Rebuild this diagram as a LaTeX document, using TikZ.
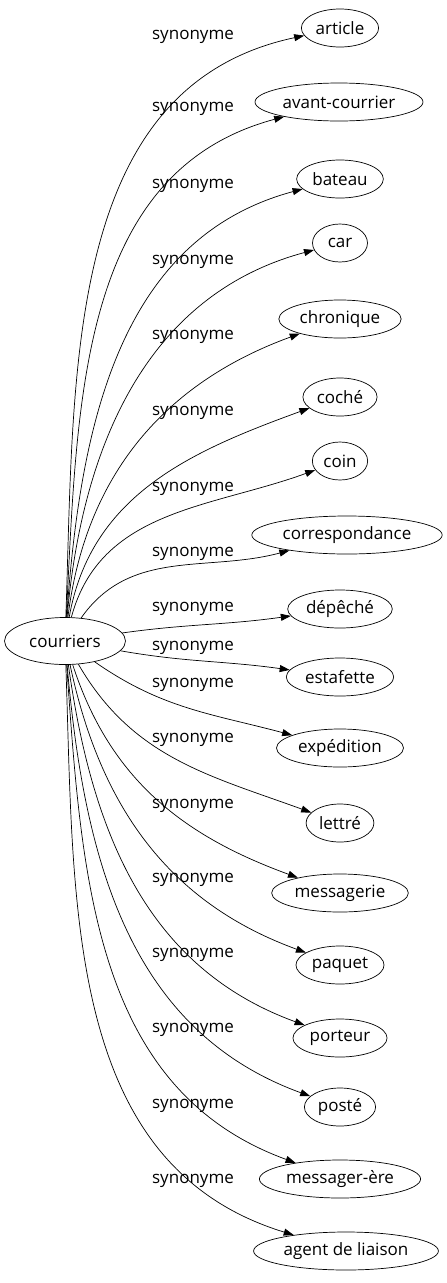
\documentclass[tikz,border=0pt]{standalone}
\usepackage{fontspec}
\setmainfont{Open Sans}
\usetikzlibrary{arrows.meta, shapes.geometric}

\begin{document}
\begin{tikzpicture}[x=1pt, y=-1pt]
			\tikzset {every node/.style={font=\fontsize{17}{19}\selectfont}, word/.style={draw, line width=0.7pt, ellipse, inner xsep=3pt, inner ysep=1pt, minimum height=38pt, minimum width=55pt}, syn/.style={->, line width=0.7pt, >={Triangle[length=10pt, width=7pt]}}, lbl/.style={inner sep=0pt}}
			\useasboundingbox (0,0) rectangle (447,1283);

			\node[word, minimum height=47pt, inner xsep=7pt] (0) at (65,641) {courriers};

			\node[word] (1) at (340,28) {article};
			\node[word] (2) at (339,102) {avant-courrier};
			\node[word] (3) at (340,179) {bateau};
			\node[word] (4) at (340,243) {car};
			\node[word] (5) at (340,319) {chronique};
			\node[word] (6) at (340,397) {coché};
			\node[word] (7) at (340,461) {coin};
			\node[word] (8) at (347,535) {correspondance};
			\node[word] (9) at (340,609) {dépêché};
			\node[word] (10) at (340,677) {estafette};
			\node[word] (11) at (340,748) {expédition};
			\node[word] (12) at (340,823) {lettré};
			\node[word] (13) at (340,893) {messagerie};
			\node[word] (14) at (340,965) {paquet};
			\node[word] (15) at (340,1038) {porteur};
			\node[word] (16) at (340,1107) {posté};
			\node[word] (17) at (340,1179) {messager-ère};
			\node[word] (18) at (346,1251) {agent de liaison};

			\foreach \i/\y in {1/37, 2/109, 3/186, 4/262, 5/337, 6/413, 7/489, 8/554, 9/609, 10/648, 11/685, 12/740, 13/806, 14/880, 15/955, 16/1030, 17/1106, 18/1181}
				\node[lbl] (l\i) at (193,\y) {synonyme};

			\draw[syn]
				(0) edge[out=88, in=192] (1)
				(0) edge[out=87, in=195] (2)
				(0) edge[out=86, in=195] (3)
				(0) edge[out=85, in=195] (4)
				(0) edge[out=83, in=200] (5)
				(0) edge[out=80, in=200] (6)
				(0) edge[out=75, in=200] (7)
				(0) edge[out=55, in=195] (8)
				(0) edge[out=8, in=188] (9)
				(0) edge[out=-10, in=172] (10)
				(0) edge[out=-35, in=165] (11)
				(0) edge[out=-60, in=160] (12)
				(0) edge[out=-72, in=160] (13)
				(0) edge[out=-78, in=160] (14)
				(0) edge[out=-82, in=160] (15)
				(0) edge[out=-85, in=160] (16)
				(0) edge[out=-86, in=160] (17)
				(0) edge[out=-88, in=163] (18);
		\end{tikzpicture}
\end{document}
